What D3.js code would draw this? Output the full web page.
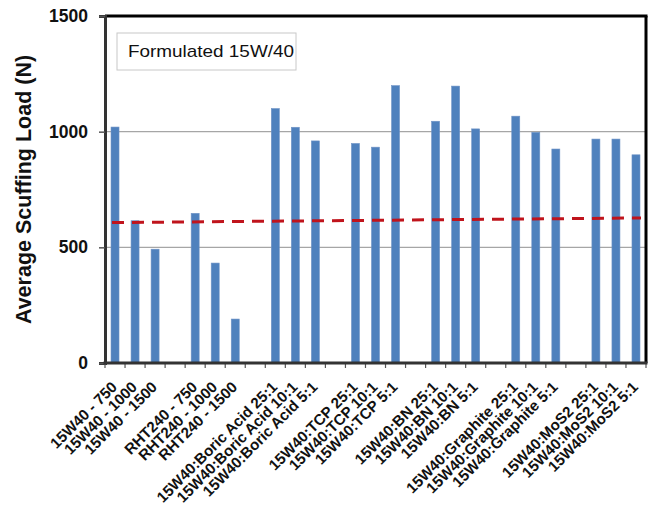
<!DOCTYPE html>
<html>
<head>
<meta charset="utf-8">
<script src="https://cdn.jsdelivr.net/npm/d3@7"></script>
<style>
  body { margin: 0; background: #fff; }
  text { font-family: "Liberation Sans", Arial, sans-serif; }
</style>
</head>
<body>
<script>
// chart data
var groups = ["15W40", "RHT240", "Boric Acid", "TCP", "BN", "Graphite", "MoS2"];
var labels = [
	"15W40 - 750", "15W40 - 1000", "15W40 - 1500",
	"RHT240 - 750", "RHT240 - 1000", "RHT240 - 1500",
	"15W40:Boric Acid 25:1", "15W40:Boric Acid 10:1", "15W40:Boric Acid 5:1",
	"15W40:TCP 25:1", "15W40:TCP 10:1", "15W40:TCP 5:1",
	"15W40:BN 25:1", "15W40:BN 10:1", "15W40:BN 5:1",
	"15W40:Graphite 25:1", "15W40:Graphite 10:1", "15W40:Graphite 5:1",
	"15W40:MoS2 25:1", "15W40:MoS2 10:1", "15W40:MoS2 5:1"
];
var values = [
	1020, 615, 492,
	647, 432, 190,
	1100, 1019, 960,
	949, 933, 1199,
	1045, 1197, 1012,
	1067, 997, 925,
	968, 968, 900
];
var trendValues = [607, 627];   // dashed reference line, first and last slot
var yTicks = [0, 500, 1000, 1500];
var legendText = "Formulated 15W/40";
var yTitle = "Average Scuffing Load (N)";

var width = 657, height = 512;
var margin = { left: 105, right: 11, top: 16, bottom: 149 };

var svg = d3.select("body").append("svg")
	.attr("width", width)
	.attr("height", height);

// each group of 3 bars is followed by one empty slot
var perGroup = 3;
var nSlots = groups.length * (perGroup + 1) - 1;
var slotOf = function(i) { return Math.floor(i / perGroup) * (perGroup + 1) + i % perGroup; };

var x = d3.scaleBand()
	.domain(d3.range(nSlots))
	.range([margin.left, width - margin.right])
	.padding(0);

var y = d3.scaleLinear()
	.domain([0, 1500])
	.range([height - margin.bottom, margin.top]);

var x0 = margin.left, x1 = width - margin.right;
var yBottom = y(0), yTop = y(1500);

// gridlines
svg.append("g")
	.selectAll("line")
	.data(yTicks.filter(function(d) { return d > 0 && d < 1500; }))
	.enter().append("line")
	.attr("x1", x0).attr("x2", x1)
	.attr("y1", function(d) { return y(d); })
	.attr("y2", function(d) { return y(d); })
	.attr("stroke", "#a6a6a6")
	.attr("stroke-width", 1.2);

// bars
svg.append("g")
	.selectAll("rect")
	.data(values)
	.enter().append("rect")
	.attr("x", function(d, i) { return x(slotOf(i)) + x.bandwidth() / 2 - 4; })
	.attr("y", function(d) { return y(d); })
	.attr("width", 8)
	.attr("height", function(d) { return yBottom - y(d); })
	.attr("fill", "#4f81bd")
	.attr("stroke", "#6f93c6")
	.attr("stroke-width", 0.6);

// trend line
var tx = d3.scaleLinear().domain([0, 1]).range([x0 + 7, x1 - 5]);
svg.append("path")
	.datum(trendValues)
	.attr("d", d3.line()
		.x(function(d, i) { return tx(i); })
		.y(function(d) { return y(d); }))
	.attr("fill", "none")
	.attr("stroke", "#c0141c")
	.attr("stroke-width", 3)
	.attr("stroke-dasharray", "12,8");

// frame: top and right black
svg.append("line")
	.attr("x1", x0).attr("x2", x1 + 1.5)
	.attr("y1", yTop).attr("y2", yTop)
	.attr("stroke", "#000").attr("stroke-width", 3);
svg.append("line")
	.attr("x1", x1).attr("x2", x1)
	.attr("y1", yTop).attr("y2", yBottom)
	.attr("stroke", "#000").attr("stroke-width", 3);

// y axis
var yAxis = svg.append("g")
	.attr("transform", "translate(" + x0 + ",0)")
	.call(d3.axisLeft(y).tickValues(yTicks).tickFormat(d3.format("d")).tickSize(6).tickPadding(11));
yAxis.select(".domain").attr("stroke", "#333").attr("stroke-width", 3);
yAxis.selectAll(".tick line").attr("stroke", "#555").attr("stroke-width", 1.5);
yAxis.selectAll(".tick text")
	.attr("font-size", 17.5)
	.attr("font-weight", "bold")
	.attr("fill", "#111");

// x axis: ticks on slot boundaries
var xAxis = svg.append("g");
xAxis.append("g")
	.selectAll("line")
	.data(d3.range(nSlots + 1))
	.enter().append("line")
	.attr("x1", function(d) { return x0 + d * x.step(); })
	.attr("x2", function(d) { return x0 + d * x.step(); })
	.attr("y1", yBottom)
	.attr("y2", yBottom + 5)
	.attr("stroke", "#555")
	.attr("stroke-width", 1.2);
xAxis.append("line")
	.attr("x1", x0 - 1.5).attr("x2", x1 + 1.5)
	.attr("y1", yBottom).attr("y2", yBottom)
	.attr("stroke", "#333").attr("stroke-width", 3);

xAxis.append("g")
	.selectAll("text")
	.data(labels)
	.enter().append("text")
	.attr("transform", function(d, i) {
		var cx = x(slotOf(i)) + x.bandwidth() / 2 + 3;
		return "translate(" + cx + "," + (yBottom + 25) + ") rotate(-45)";
	})
	.attr("text-anchor", "end")
	.attr("font-size", 15.2)
	.attr("font-weight", "bold")
	.attr("fill", "#111")
	.text(function(d) { return d; });

// y title
svg.append("text")
	.attr("transform", "translate(31," + (yTop + yBottom) / 2 + ") rotate(-90)")
	.attr("text-anchor", "middle")
	.attr("font-size", 21.5)
	.attr("font-weight", "bold")
	.attr("fill", "#111")
	.text(yTitle);

// legend box
var lg = svg.append("g").attr("transform", "translate(117,33)");
lg.append("rect")
	.attr("width", 179)
	.attr("height", 37)
	.attr("fill", "#fff")
	.attr("stroke", "#c8c8c8")
	.attr("stroke-width", 1);
lg.append("text")
	.attr("x", 11)
	.attr("y", 24)
	.attr("font-size", 17)
	.attr("textLength", 166)
	.attr("lengthAdjust", "spacingAndGlyphs")
	.attr("fill", "#111")
	.text(legendText);
</script>
</body>
</html>
